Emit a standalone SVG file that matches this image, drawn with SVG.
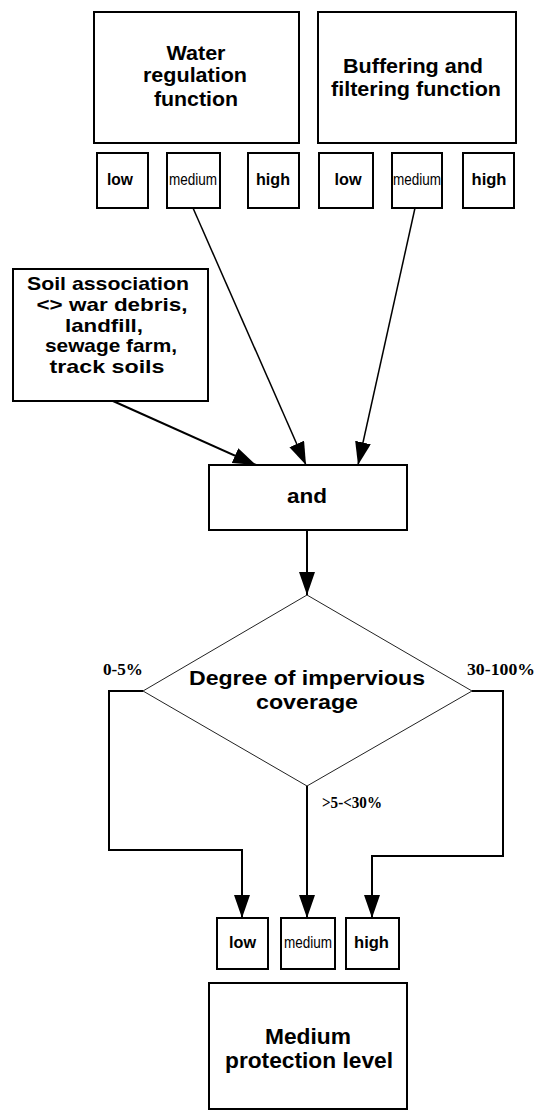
<svg xmlns="http://www.w3.org/2000/svg" width="536" height="1111" viewBox="0 0 536 1111">
<style>
.box{fill:#fff;stroke:#000;stroke-width:2}
.t{font-family:"Liberation Sans",Arial,sans-serif;font-weight:bold;fill:#000;text-anchor:middle}
.m{font-family:"Liberation Sans",Arial,sans-serif;fill:#000;text-anchor:middle}
.lbl{font-family:"Liberation Serif","Times New Roman",serif;font-weight:bold;fill:#000;font-size:17px}
.c{fill:none;stroke:#000;stroke-width:2}
.d{fill:none;stroke:#000;stroke-width:1.5}
</style>
<defs>
<marker id="ah" markerUnits="userSpaceOnUse" markerWidth="24" markerHeight="18" refX="23" refY="8" orient="auto">
<path d="M0,0 L23,8 L0,16 z" fill="#000"/>
</marker>
</defs>
<rect width="536" height="1111" fill="#fff"/>

<g id="water">
<rect class="box" x="94" y="12" width="205" height="131"/>
<text class="t" font-size="20" x="196" y="60" textLength="59" lengthAdjust="spacingAndGlyphs">Water</text>
<text class="t" font-size="20" x="195" y="82" textLength="104" lengthAdjust="spacingAndGlyphs">regulation</text>
<text class="t" font-size="20" x="196" y="106" textLength="84" lengthAdjust="spacingAndGlyphs">function</text>
</g>
<g id="buffer">
<rect class="box" x="318" y="12" width="198" height="131"/>
<text class="t" font-size="20" x="413" y="73" textLength="140" lengthAdjust="spacingAndGlyphs">Buffering and</text>
<text class="t" font-size="20" x="416" y="96" textLength="170" lengthAdjust="spacingAndGlyphs">filtering function</text>
</g>
<g id="w-low"><rect class="box" x="97" y="153" width="51" height="55"/><text class="t" font-size="16" x="120" y="185" textLength="26" lengthAdjust="spacingAndGlyphs">low</text></g>
<g id="w-medium"><rect class="box" x="167" y="153" width="53" height="55"/><text class="m" font-size="16" x="193" y="185" textLength="48" lengthAdjust="spacingAndGlyphs">medium</text></g>
<g id="w-high"><rect class="box" x="248" y="153" width="51" height="55"/><text class="t" font-size="16" x="273" y="185" textLength="34" lengthAdjust="spacingAndGlyphs">high</text></g>
<g id="b-low"><rect class="box" x="319" y="153" width="54" height="55"/><text class="t" font-size="16" x="348" y="185" textLength="27" lengthAdjust="spacingAndGlyphs">low</text></g>
<g id="b-medium"><rect class="box" x="392" y="153" width="50" height="55"/><text class="m" font-size="16" x="417" y="185" textLength="48" lengthAdjust="spacingAndGlyphs">medium</text></g>
<g id="b-high"><rect class="box" x="463" y="153" width="51" height="55"/><text class="t" font-size="16" x="489" y="185" textLength="35" lengthAdjust="spacingAndGlyphs">high</text></g>

<g id="soil">
<rect class="box" x="13" y="269" width="195" height="132"/>
<text class="t" font-size="19" x="108" y="290" textLength="162" lengthAdjust="spacingAndGlyphs">Soil association</text>
<text class="t" font-size="19" x="112" y="311" textLength="151" lengthAdjust="spacingAndGlyphs">&lt;&gt; war debris,</text>
<text class="t" font-size="19" x="104" y="332" textLength="78" lengthAdjust="spacingAndGlyphs">landfill,</text>
<text class="t" font-size="19" x="111" y="352" textLength="132" lengthAdjust="spacingAndGlyphs">sewage farm,</text>
<text class="t" font-size="19" x="107" y="373" textLength="115" lengthAdjust="spacingAndGlyphs">track soils</text>
</g>

<g id="and">
<rect class="box" x="209" y="465" width="198" height="65"/>
<text class="t" font-size="20" x="307" y="503" textLength="40" lengthAdjust="spacingAndGlyphs">and</text>
</g>

<g id="decision">
<polygon points="307,595 472,691 307,786 143,691" fill="#fff" stroke="#222" stroke-width="1"/>
<text class="t" font-size="20" x="307" y="685" textLength="236" lengthAdjust="spacingAndGlyphs">Degree of impervious</text>
<text class="t" font-size="20" x="307" y="709" textLength="102" lengthAdjust="spacingAndGlyphs">coverage</text>
</g>

<g id="o-low"><rect class="box" x="217" y="918" width="51" height="51"/><text class="t" font-size="16" x="242.5" y="948" textLength="27" lengthAdjust="spacingAndGlyphs">low</text></g>
<g id="o-medium"><rect class="box" x="281" y="918" width="54" height="51"/><text class="m" font-size="16" x="308" y="948" textLength="48" lengthAdjust="spacingAndGlyphs">medium</text></g>
<g id="o-high"><rect class="box" x="346" y="918" width="53" height="51"/><text class="t" font-size="16" x="371.5" y="948" textLength="35" lengthAdjust="spacingAndGlyphs">high</text></g>

<g id="result">
<rect class="box" x="209" y="983" width="198" height="126"/>
<text class="t" font-size="22" x="308" y="1044" textLength="86" lengthAdjust="spacingAndGlyphs">Medium</text>
<text class="t" font-size="22" x="309" y="1068" textLength="168" lengthAdjust="spacingAndGlyphs">protection level</text>
</g>

<g id="connectors">
<line class="d" x1="193" y1="208" x2="306" y2="465" marker-end="url(#ah)"/>
<line class="d" x1="415" y1="208" x2="358" y2="465" marker-end="url(#ah)"/>
<line class="c" x1="113" y1="401" x2="256" y2="465" marker-end="url(#ah)"/>
<line class="c" x1="307" y1="530" x2="307" y2="595" marker-end="url(#ah)"/>
<polyline class="c" points="143,691 109,691 109,850 242,850 242,918" marker-end="url(#ah)"/>
<line class="c" x1="307" y1="786" x2="307" y2="918" marker-end="url(#ah)"/>
<polyline class="c" points="472,691 503,691 503,856 372,856 372,918" marker-end="url(#ah)"/>
<text class="lbl" x="103" y="675" textLength="40" lengthAdjust="spacingAndGlyphs">0-5%</text>
<text class="lbl" x="467" y="675" textLength="68" lengthAdjust="spacingAndGlyphs">30-100%</text>
<text class="lbl" x="322" y="808" textLength="60" lengthAdjust="spacingAndGlyphs">&gt;5-&lt;30%</text>
</g>
</svg>
